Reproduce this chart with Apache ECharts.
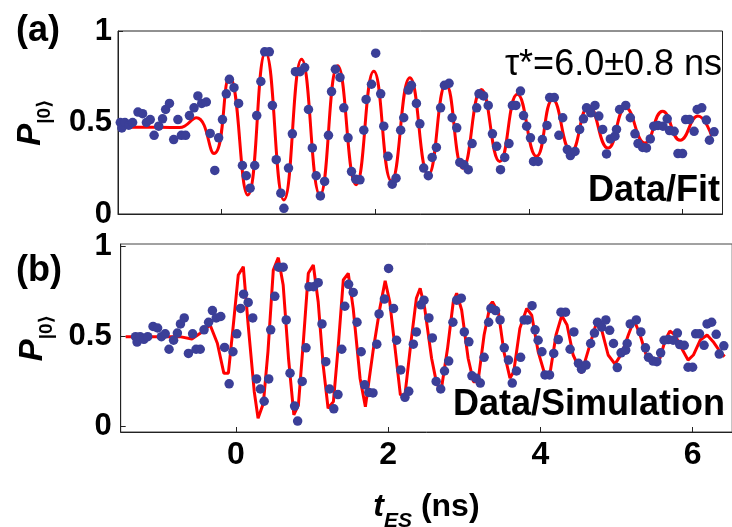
<!DOCTYPE html>
<html>
<head>
<meta charset="utf-8">
<script src="https://cdn.jsdelivr.net/npm/echarts@6/dist/echarts.min.js"></script>
<style>html,body{margin:0;padding:0;background:#fff;}#c{width:732px;height:527px;}</style>
</head>
<body>
<div id="c"></div>
<script>
// ---- data ----
const xTicks = [0, 2, 4, 6];
const yTicks = [0, 0.5, 1];

// measured points [t_ES (ns), P]
const measured = [
[-1.32,0.50],[-1.30,0.47],[-1.26,0.50],[-1.21,0.485],[-1.16,0.50],[-1.09,0.557],[-1.03,0.548],[-0.98,0.50],
[-0.93,0.516],[-0.88,0.43],[-0.82,0.48],[-0.77,0.52],[-0.73,0.571],[-0.68,0.604],[-0.625,0.407],[-0.57,0.516],
[-0.525,0.43],[-0.47,0.43],[-0.42,0.538],[-0.36,0.58],[-0.31,0.645],[-0.26,0.604],[-0.20,0.612],[-0.15,0.44],
[-0.09,0.238],[-0.04,0.416],[0.01,0.516],[0.06,0.657],[0.10,0.736],[0.16,0.69],[0.22,0.604],[0.27,0.265],
[0.32,0.209],[0.37,0.141],[0.43,0.265],[0.456,0.538],[0.51,0.724],[0.56,0.886],[0.62,0.886],[0.66,0.593],
[0.71,0.297],[0.77,0.114],[0.81,0.031],[0.87,0.251],[0.92,0.438],[0.96,0.778],[1.02,0.778],[1.08,0.80],
[1.13,0.571],[1.18,0.361],[1.23,0.209],[1.285,0.099],[1.34,0.178],[1.39,0.43],[1.43,0.669],[1.48,0.791],
[1.54,0.746],[1.59,0.58],[1.645,0.416],[1.69,0.232],[1.745,0.19],[1.80,0.187],[1.85,0.458],[1.88,0.626],
[1.95,0.709],[2.005,0.879],[2.07,0.657],[2.11,0.48],[2.165,0.315],[2.22,0.163],[2.27,0.196],[2.33,0.458],
[2.37,0.526],[2.43,0.677],[2.47,0.703],[2.535,0.604],[2.58,0.493],[2.63,0.251],[2.69,0.209],[2.74,0.309],
[2.795,0.364],[2.85,0.58],[2.90,0.703],[2.96,0.714],[3.00,0.526],[3.06,0.471],[3.10,0.282],[3.155,0.269],
[3.21,0.242],[3.26,0.385],[3.32,0.58],[3.35,0.657],[3.41,0.645],[3.47,0.593],[3.525,0.438],[3.58,0.37],
[3.63,0.242],[3.685,0.309],[3.74,0.385],[3.785,0.593],[3.83,0.593],[3.89,0.672],[3.93,0.538],[3.97,0.48],
[4.02,0.416],[4.06,0.287],[4.12,0.287],[4.175,0.407],[4.235,0.484],[4.27,0.636],[4.33,0.636],[4.39,0.43],
[4.44,0.526],[4.50,0.352],[4.54,0.319],[4.60,0.342],[4.66,0.462],[4.71,0.52],[4.75,0.58],[4.805,0.553],
[4.86,0.593],[4.91,0.535],[4.96,0.462],[5.01,0.328],[5.06,0.41],[5.12,0.425],[5.14,0.462],[5.18,0.571],
[5.26,0.593],[5.32,0.526],[5.38,0.438],[5.42,0.385],[5.48,0.364],[5.53,0.361],[5.58,0.41],[5.625,0.48],
[5.68,0.484],[5.745,0.48],[5.80,0.52],[5.83,0.456],[5.89,0.452],[5.94,0.33],[6.00,0.33],[6.04,0.516],
[6.09,0.516],[6.15,0.452],[6.19,0.571],[6.25,0.58],[6.31,0.513],[6.35,0.403],[6.41,0.449]
];

// fit curve (panel a): read extrema
const fitCurve = [
[-1.35,0.474],[-0.8,0.474],[-0.55,0.472],[-0.33,0.526],[-0.10,0.33],[0.10,0.75],[0.34,0.104],[0.57,0.883],
[0.81,0.077],[1.04,0.846],[1.28,0.104],[1.51,0.81],[1.75,0.16],[1.98,0.78],[2.21,0.18],[2.45,0.745],
[2.69,0.214],[2.92,0.709],[3.14,0.25],[3.38,0.68],[3.62,0.287],[3.85,0.654],[4.10,0.315],[4.31,0.626],
[4.55,0.342],[4.78,0.59],[5.03,0.36],[5.26,0.58],[5.51,0.388],[5.74,0.562],[5.97,0.403],[6.20,0.535],[6.38,0.425]
];

// simulation curve (panel b)
const simCurve = [
[-1.45,0.50],[-0.74,0.50],[-0.58,0.487],[-0.47,0.519],[-0.34,0.565],[-0.245,0.463],[-0.16,0.297],[-0.10,0.297],
[-0.035,0.565],[0.03,0.843],[0.096,0.889],[0.16,0.565],[0.24,0.194],[0.29,0.046],[0.36,0.13],[0.42,0.417],
[0.49,0.87],[0.556,0.939],[0.62,0.787],[0.69,0.38],[0.76,0.065],[0.82,0.12],[0.885,0.472],[0.95,0.852],
[1.016,0.898],[1.08,0.694],[1.145,0.343],[1.21,0.102],[1.28,0.139],[1.345,0.454],[1.41,0.815],[1.475,0.852],
[1.54,0.657],[1.63,0.269],[1.70,0.11],[1.80,0.417],[1.89,0.657],[1.96,0.81],[2.02,0.694],[2.09,0.435],
[2.16,0.176],[2.22,0.176],[2.30,0.472],[2.37,0.713],[2.42,0.769],[2.48,0.657],[2.57,0.38],[2.64,0.232],
[2.70,0.213],[2.78,0.435],[2.855,0.694],[2.90,0.741],[2.965,0.648],[3.05,0.38],[3.12,0.25],[3.18,0.25],
[3.26,0.509],[3.34,0.676],[3.37,0.694],[3.45,0.63],[3.52,0.417],[3.60,0.269],[3.65,0.306],[3.73,0.546],
[3.82,0.657],[3.885,0.62],[3.97,0.417],[4.06,0.287],[4.13,0.306],[4.205,0.509],[4.28,0.617],[4.35,0.565],
[4.43,0.398],[4.54,0.297],[4.65,0.454],[4.74,0.583],[4.80,0.546],[4.89,0.398],[4.98,0.347],[5.07,0.407],
[5.155,0.509],[5.23,0.593],[5.31,0.509],[5.39,0.398],[5.48,0.352],[5.57,0.38],[5.64,0.481],[5.70,0.531],
[5.77,0.509],[5.855,0.435],[5.94,0.37],[6.01,0.398],[6.10,0.481],[6.19,0.509],[6.27,0.472],[6.36,0.417],[6.42,0.389]
];

// ---- chart ----
const FONT = '"Liberation Sans", Arial, "DejaVu Sans", sans-serif';
const RED = '#ff0000';
const DOT = '#3b3f98';
const chart = echarts.init(document.getElementById('c'), null, {renderer: 'canvas'});

function xAxisCfg(gi, min, max, showLabels, withName) {
  return {
    type: 'value', gridIndex: gi, min: min, max: max,
    axisLine: {show: true, onZero: false, lineStyle: {color: '#222', width: 1}},
    axisTick: {show: true, inside: true, length: 5, customValues: xTicks, lineStyle: {color: '#222'}},
    axisLabel: {show: showLabels, customValues: xTicks, margin: 7, color: '#000',
      fontFamily: FONT, fontWeight: 'bold', fontSize: 32},
    splitLine: {show: false},
    name: withName ? '{t|t}{e|ES}{n| (ns)}' : '',
    nameLocation: 'middle', nameGap: 57,
    nameTextStyle: {rich: {
      t: {fontFamily: FONT, fontWeight: 'bold', fontStyle: 'italic', fontSize: 32, color: '#000', verticalAlign: 'bottom', lineHeight: 34},
      e: {fontFamily: FONT, fontWeight: 'bold', fontStyle: 'italic', fontSize: 21, color: '#000', verticalAlign: 'bottom', lineHeight: 34, padding: [0,0,-9,0]},
      n: {fontFamily: FONT, fontWeight: 'bold', fontSize: 32, color: '#000', verticalAlign: 'bottom', lineHeight: 34}
    }}
  };
}
function yAxisCfg(gi, min, max, margin) {
  return {
    type: 'value', gridIndex: gi, min: min, max: max,
    axisLine: {show: true, onZero: false, lineStyle: {color: '#222', width: 1}},
    axisTick: {show: true, inside: true, length: 5, customValues: yTicks, lineStyle: {color: '#222'}},
    axisLabel: {show: true, customValues: yTicks, margin: margin, color: '#000',
      fontFamily: FONT, fontWeight: 'bold', fontSize: 31},
    splitLine: {show: false},
    name: '{p|P}{s||0⟩}',
    nameLocation: 'middle', nameRotate: 90, nameGap: 71,
    nameTextStyle: {rich: {
      p: {fontFamily: FONT, fontWeight: 'bold', fontStyle: 'italic', fontSize: 33, color: '#000', verticalAlign: 'bottom', lineHeight: 34},
      s: {fontFamily: FONT, fontWeight: 'bold', fontSize: 19, color: '#000', verticalAlign: 'bottom', lineHeight: 34, padding: [0,0,-7,0]}
    }}
  };
}

const option = {
  animation: false,
  backgroundColor: '#fff',
  grid: [
    {left: 118, top: 31, width: 604.5, height: 183, show: true, borderColor: '#222', borderWidth: 1, backgroundColor: 'transparent', containLabel: false, outerBoundsMode: 'none'},
    {left: 120.7, top: 244, width: 611.5, height: 188, show: true, borderColor: '#444', borderWidth: 1, backgroundColor: 'transparent', containLabel: false, outerBoundsMode: 'none'}
  ],
  xAxis: [xAxisCfg(0, -1.35, 6.52, false, false), xAxisCfg(1, -1.515, 6.52, true, true)],
  yAxis: [yAxisCfg(0, 0, 1, 6), yAxisCfg(1, -0.03, 1.015, 9)],
  series: [
    {type: 'line', xAxisIndex: 0, yAxisIndex: 0, data: fitCurve, smooth: 0.5, showSymbol: false,
      lineStyle: {color: RED, width: 3}, z: 2},
    {type: 'scatter', xAxisIndex: 0, yAxisIndex: 0, data: measured, symbolSize: 9.5,
      itemStyle: {color: DOT, opacity: 1}, z: 3},
    {type: 'line', xAxisIndex: 1, yAxisIndex: 1, data: simCurve, smooth: false, showSymbol: false,
      lineStyle: {color: RED, width: 3}, z: 2},
    {type: 'scatter', xAxisIndex: 1, yAxisIndex: 1, data: measured, symbolSize: 9.5,
      itemStyle: {color: DOT, opacity: 1}, z: 3}
  ],
  graphic: [
    {type: 'text', x: 16, y: 31, z: 10, style: {text: '(a)', fill: '#000', font: 'bold 36px ' + FONT, align: 'left', verticalAlign: 'middle', textAlign: 'left', textVerticalAlign: 'middle'}},
    {type: 'text', x: 16, y: 271, z: 10, style: {text: '(b)', fill: '#000', font: 'bold 36px ' + FONT, align: 'left', verticalAlign: 'middle', textAlign: 'left', textVerticalAlign: 'middle'}},
    {type: 'text', x: 722, y: 65, z: 10, style: {text: 'τ*=6.0±0.8 ns', fill: '#000', font: '36px ' + FONT, align: 'right', verticalAlign: 'middle', textAlign: 'right', textVerticalAlign: 'middle'}},
    {type: 'text', x: 720, y: 191, z: 10, style: {text: 'Data/Fit', fill: '#000', font: 'bold 36px ' + FONT, align: 'right', verticalAlign: 'middle', textAlign: 'right', textVerticalAlign: 'middle'}},
    {type: 'text', x: 725, y: 405, z: 10, style: {text: 'Data/Simulation', fill: '#000', font: 'bold 36px ' + FONT, align: 'right', verticalAlign: 'middle', textAlign: 'right', textVerticalAlign: 'middle'}}
  ]
};
chart.setOption(option);
</script>
</body>
</html>
